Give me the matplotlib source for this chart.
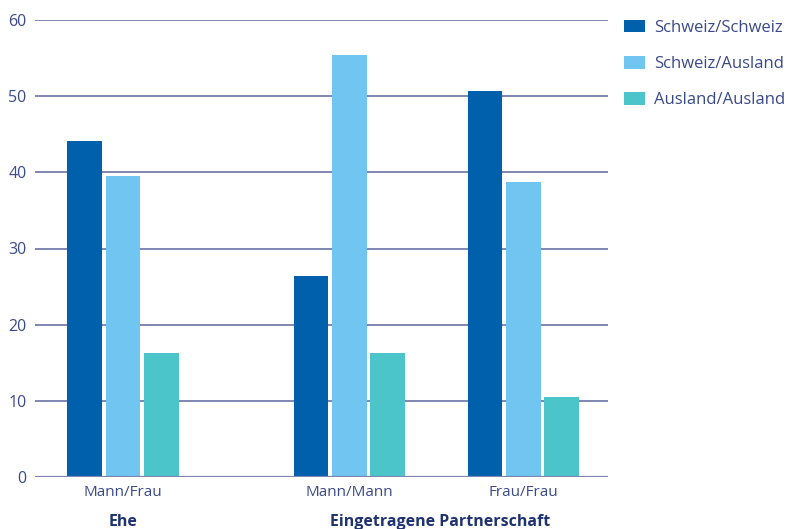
import matplotlib
matplotlib.use("Agg")
import matplotlib.pyplot as plt
from matplotlib.patches import Patch
import numpy as np

# ── 데이터 ──
categories = ["Mann/Frau", "Mann/Mann", "Frau/Frau"]
cat_pos = [0.0, 1.3, 2.3]
groups = ["Ehe", "Eingetragene Partnerschaft"]
group_pos = [0.0, 1.82]
series = ["Schweiz/Schweiz", "Schweiz/Ausland", "Ausland/Ausland"]
schweiz_schweiz = [44.1, 26.4, 50.7]
schweiz_ausland = [39.5, 55.4, 38.7]
ausland_ausland = [16.3, 16.3, 10.5]
y_ticks = [0, 10, 20, 30, 40, 50, 60]

colors = ["#0060ac", "#70c6f0", "#4bc4ca"]
grid_col = "#7f86b0"
text_col = "#3a4a8a"
navy = "#1f3370"

plt.rcParams["font.family"] = ["Open Sans", "DejaVu Sans"]

fig = plt.figure(figsize=(7.86, 5.29), dpi=100)
ax = fig.add_axes([35 / 786, 52 / 529, (608 - 35) / 786, (477 - 20) / 529])

x = np.array(cat_pos)
w, step = 0.2, 0.22
for i, (vals, col) in enumerate(zip([schweiz_schweiz, schweiz_ausland, ausland_ausland], colors)):
    ax.bar(x + (i - 1) * step, vals, width=w, color=col, zorder=3)

ax.set_xlim(-0.506, 2.787)
ax.set_ylim(0, 60)
ax.set_yticks(y_ticks)
ax.set_yticklabels([str(t) for t in y_ticks], fontsize=11.5, color=text_col)
for t in y_ticks[1:]:
    ax.axhline(t, color=grid_col, lw=1.4, zorder=1)
ax.axhline(0, color=grid_col, lw=1.6, zorder=4)

ax.set_xticks(x)
ax.set_xticklabels(categories, fontsize=11, color=text_col)
ax.tick_params(axis="both", length=0)
ax.tick_params(axis="x", pad=6)
ax.tick_params(axis="y", pad=6)
for s in ax.spines.values():
    s.set_visible(False)

# 그룹 라벨
for g, gx in zip(groups, group_pos):
    ax.text(gx, -5.9, g, ha="center", va="center",
            fontsize=11.5, fontweight="bold", color=navy)

handles = [Patch(facecolor=c, edgecolor="none") for c in colors]
fig.legend(handles, series, loc="upper left", bbox_to_anchor=(617 / 786, 1 - 13 / 529),
           frameon=False, fontsize=12, labelcolor=text_col,
           handlelength=1.25, handleheight=0.8, handletextpad=0.6,
           labelspacing=1.2, borderaxespad=0)

fig.savefig("out.png", dpi=100)
